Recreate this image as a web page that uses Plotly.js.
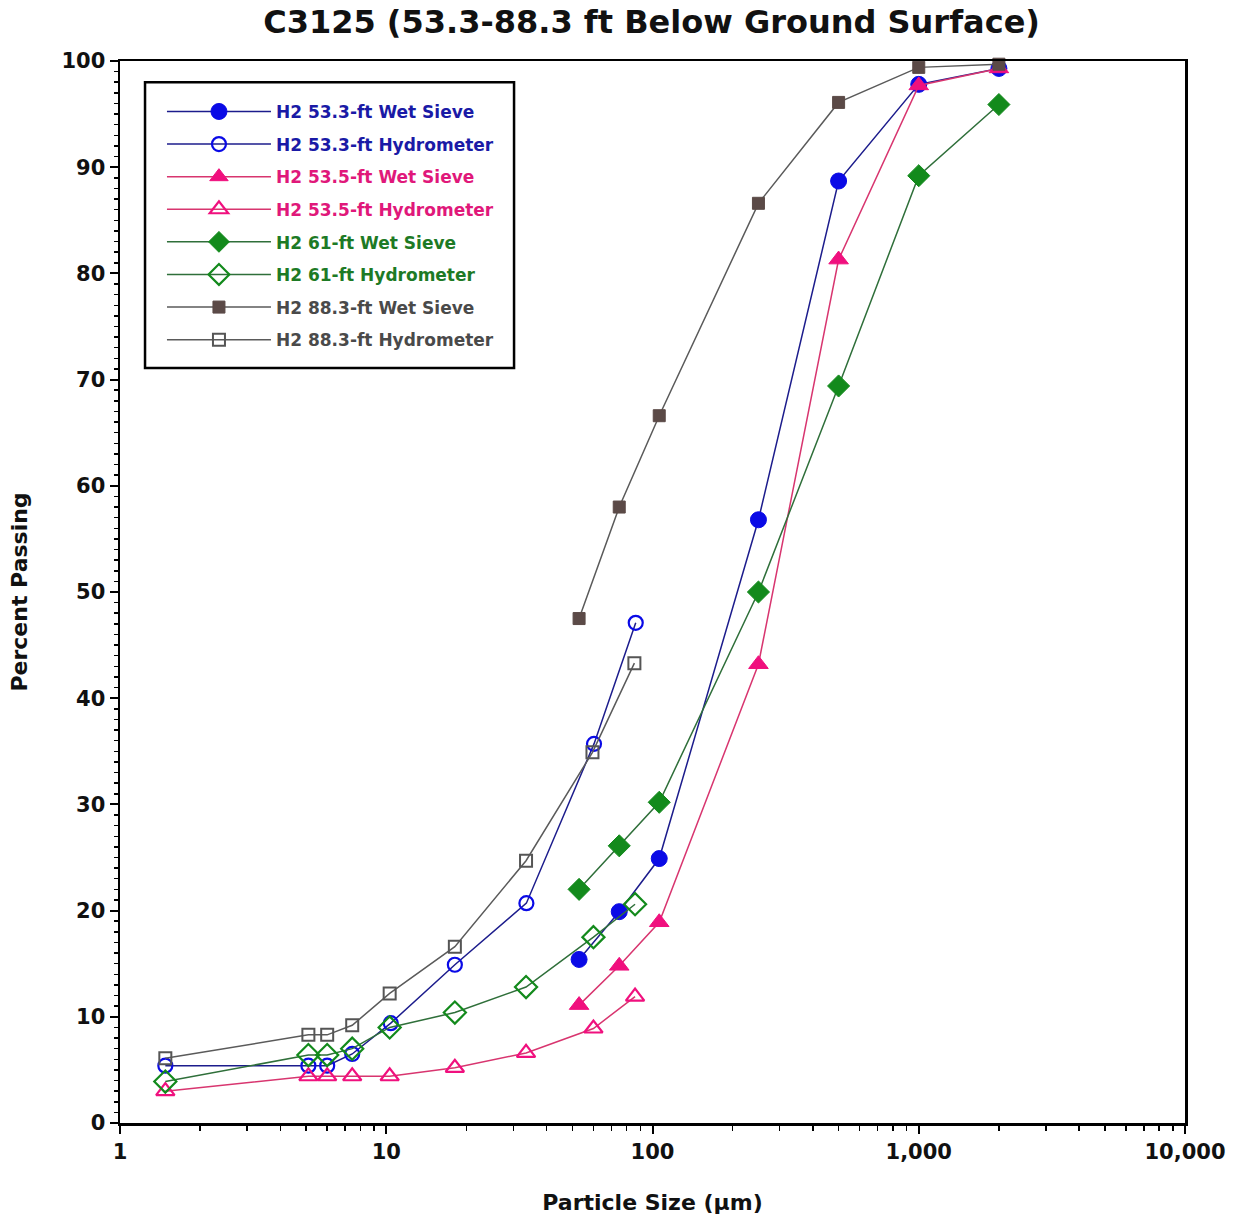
<!DOCTYPE html>
<html>
<head>
<meta charset="utf-8">
<script src="https://cdn.plot.ly/plotly-3.0.1.min.js"></script>
<style>html,body{margin:0;padding:0;background:#fff;}#chart{width:1234px;height:1224px;}</style>
</head>
<body>
<div id="chart"></div>
<script>
// Sieve sizes (µm)
const sieveSizes = [53, 75, 106, 250, 500, 1000, 2000];

// H2 53.3-ft
const h533WetPct = [15.4, 19.9, 24.9, 56.8, 88.7, 97.8, 99.3];
const h533HydSize = [1.48, 5.1, 6.0, 7.45, 10.4, 18.1, 33.6, 60.3, 86.5];
const h533HydPct = [5.4, 5.4, 5.4, 6.5, 9.4, 14.9, 20.7, 35.7, 47.1];

// H2 53.5-ft
const h535WetPct = [11.1, 14.8, 18.9, 43.2, 81.3, 97.7, 99.3];
const h535HydSize = [1.48, 5.1, 6.0, 7.45, 10.3, 18.1, 33.5, 60.0, 86.0];
const h535HydPct = [3.0, 4.4, 4.4, 4.4, 4.4, 5.2, 6.6, 8.9, 11.9];

// H2 61-ft
const h61WetPct = [22.0, 26.1, 30.2, 50.0, 69.4, 89.2, 95.9];
const h61HydSize = [1.48, 5.1, 6.0, 7.45, 10.3, 18.1, 33.5, 60.0, 86.0];
const h61HydPct = [3.9, 6.4, 6.4, 7.0, 9.0, 10.4, 12.8, 17.5, 20.6];

// H2 88.3-ft
const h883WetPct = [47.5, 58.0, 66.6, 86.6, 96.1, 99.4, 99.7];
const h883HydSize = [1.48, 5.1, 6.0, 7.45, 10.3, 18.1, 33.5, 59.5, 85.5];
const h883HydPct = [6.1, 8.3, 8.3, 9.2, 12.2, 16.6, 24.7, 34.9, 43.3];

const seriesNames = [
  'H2 53.3-ft Wet Sieve', 'H2 53.3-ft Hydrometer',
  'H2 53.5-ft Wet Sieve', 'H2 53.5-ft Hydrometer',
  'H2 61-ft Wet Sieve', 'H2 61-ft Hydrometer',
  'H2 88.3-ft Wet Sieve', 'H2 88.3-ft Hydrometer'
];

const xTickVals = [1, 10, 100, 1000, 10000];
const xTickText = ['1', '10', '100', '1,000', '10,000'];
const yTickVals = [0, 10, 20, 30, 40, 50, 60, 70, 80, 90, 100];

const FONT = 'DejaVu Sans, Arial, sans-serif';

function tr(name, x, y, lineColor, mk, group) {
  return {
    type: 'scatter', mode: 'lines+markers', name: name, x: x, y: y,
    line: {color: lineColor, width: 1.5},
    marker: mk,
    legendgroup: group,
    hoverinfo: 'skip',
    cliponaxis: false
  };
}

const blueLine = '#1c1c8c', pinkLine = '#d8356f', greenLine = '#2f6f3a', greyLine = '#5a5a5a';
const blueM = '#0a0ae6', pinkM = '#f0107e', greenM = '#138a1c', brownM = '#5b4a47';

const traces = [
  tr(seriesNames[0], sieveSizes, h533WetPct, blueLine, {symbol: 'circle', size: 16, color: blueM, line: {color: blueM, width: 1}}, 'g1'),
  tr(seriesNames[1], h533HydSize, h533HydPct, blueLine, {symbol: 'circle-open', size: 14, color: blueM, line: {color: blueM, width: 2.2}}, 'g2'),
  tr(seriesNames[2], sieveSizes, h535WetPct, pinkLine, {symbol: 'triangle-up', size: 17, color: pinkM, line: {color: pinkM, width: 1}}, 'g3'),
  tr(seriesNames[3], h535HydSize, h535HydPct, pinkLine, {symbol: 'triangle-up-open', size: 16, color: pinkM, line: {color: pinkM, width: 2.2}}, 'g4'),
  tr(seriesNames[4], sieveSizes, h61WetPct, greenLine, {symbol: 'diamond', size: 17, color: greenM, line: {color: greenM, width: 1}}, 'g5'),
  tr(seriesNames[5], h61HydSize, h61HydPct, greenLine, {symbol: 'diamond-open', size: 17, color: greenM, line: {color: greenM, width: 2.2}}, 'g6'),
  tr(seriesNames[6], sieveSizes, h883WetPct, greyLine, {symbol: 'square', size: 12, color: brownM, line: {color: brownM, width: 1}}, 'g7'),
  tr(seriesNames[7], h883HydSize, h883HydPct, greyLine, {symbol: 'square-open', size: 12, color: '#555', line: {color: '#555', width: 2}}, 'g8')
];

const legendColors = ['#1a1aa6', '#1a1aa6', '#e0187a', '#e0187a', '#1d7a25', '#1d7a25', '#4a4a4a', '#4a4a4a'];
traces.forEach((t, i) => {
  t.name = '<span style="color:' + legendColors[i] + '">' + seriesNames[i] + '</span>';
});

const layout = {
  width: 1234, height: 1224,
  margin: {l: 120, r: 49, t: 61, b: 101},
  paper_bgcolor: '#fff', plot_bgcolor: '#fff',
  font: {family: FONT, color: '#111'},
  title: {text: '<b>C3125 (53.3-88.3 ft Below Ground Surface)</b>', font: {family: FONT, size: 32, color: '#111'}, x: 0.528, xanchor: 'center', y: 0.982, yanchor: 'middle'},
  showlegend: true,
  legend: {
    x: 0.0394, y: 0.969, xanchor: 'left', yanchor: 'top',
    bgcolor: 'rgba(0,0,0,0)', borderwidth: 0,
    font: {family: FONT, size: 17, color: '#222', weight: 'bold'},
    traceorder: 'grouped', tracegroupgap: 7.5,
    itemwidth: 104
  },
  shapes: [{
    type: 'rect', xref: 'paper', yref: 'paper',
    x0: 0.0235, x1: 0.370, y0: 0.711, y1: 0.980,
    line: {color: '#000', width: 2.5}, fillcolor: '#fff', layer: 'below'
  }],
  xaxis: {
    type: 'log', range: [0, 4],
    tickmode: 'array', tickvals: xTickVals, ticktext: xTickText,
    ticks: 'outside', ticklen: 8, tickwidth: 2, tickcolor: '#000',
    minor: {ticks: 'outside', ticklen: 5, tickwidth: 1.5, tickcolor: '#000', showgrid: false, dtick: 'D1'},
    showline: true, linecolor: '#000', linewidth: 2.5, mirror: true,
    showgrid: false, zeroline: false,
    tickfont: {family: FONT, size: 21, color: '#111', weight: 'bold'},
    title: {text: '<b>Particle Size (µm)</b>', font: {family: FONT, size: 22, color: '#111'}, standoff: 32}
  },
  yaxis: {
    range: [0, 100],
    tickmode: 'array', tickvals: yTickVals,
    ticks: 'outside', ticklen: 8, tickwidth: 2, tickcolor: '#000',
    minor: {ticks: 'outside', ticklen: 4, tickwidth: 1.5, tickcolor: '#000', dtick: 1, showgrid: false},
    showline: true, linecolor: '#000', linewidth: 2.5, mirror: true,
    showgrid: false, zeroline: false,
    tickfont: {family: FONT, size: 21, color: '#111', weight: 'bold'},
    title: {text: '<b>Percent Passing</b>', font: {family: FONT, size: 22, color: '#111'}, standoff: 28}
  }
};

Plotly.newPlot('chart', traces, layout, {displayModeBar: false, staticPlot: true});
</script>
</body>
</html>
